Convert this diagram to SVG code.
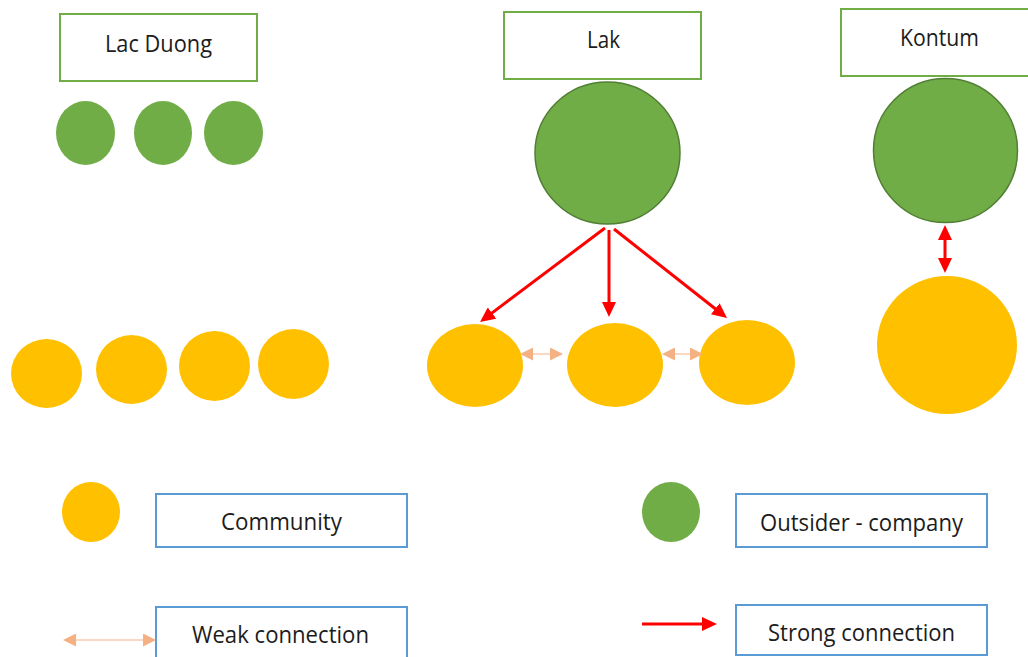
<svg xmlns="http://www.w3.org/2000/svg" width="1028" height="657" viewBox="0 0 1028 657">
<style>
  .lbl { font-family: "Open Sans", "Noto Sans", "Liberation Sans", sans-serif; font-size: 23.5px; fill: #1c1c1c; text-anchor: middle; }
  .gbox { fill: #ffffff; stroke: #70AD47; stroke-width: 2; }
  .bbox { fill: #ffffff; stroke: #5B9BD5; stroke-width: 2; }
  .out { fill: #70AD47; }
  .outbig { fill: #70AD47; stroke: #507E32; stroke-width: 1.5; }
  .com { fill: #FFC000; }
  .strong { stroke: #FF0000; stroke-width: 3; fill: none; }
  .weak { stroke: #F8CBAD; stroke-width: 1.5; fill: none; }
</style>
<defs>
  <marker id="redHead" viewBox="0 0 15 14" refX="4" refY="7" markerWidth="15" markerHeight="14" markerUnits="userSpaceOnUse" orient="auto-start-reverse">
    <path d="M0,0 L15,7 L0,14 Z" fill="#FF0000"/>
  </marker>
  <marker id="weakHead" viewBox="0 0 13 13" refX="6" refY="6.5" markerWidth="13" markerHeight="13" markerUnits="userSpaceOnUse" orient="auto-start-reverse">
    <path d="M0,0 L13,6.5 L0,13 Z" fill="#F4B183"/>
  </marker>
</defs>

<g id="lac-duong">
  <g id="lac-duong-label"><rect class="gbox" x="60" y="14" width="197" height="67"/><text class="lbl" x="158.5" y="52" textLength="107" lengthAdjust="spacingAndGlyphs">Lac Duong</text></g>
  <ellipse id="ld-out-1" class="out" cx="85.5" cy="133" rx="29.5" ry="32"/>
  <ellipse id="ld-out-2" class="out" cx="163" cy="133" rx="29" ry="32"/>
  <ellipse id="ld-out-3" class="out" cx="233.5" cy="133" rx="29.5" ry="32"/>
  <ellipse id="ld-com-1" class="com" cx="46.5" cy="373.5" rx="35.5" ry="34.5"/>
  <ellipse id="ld-com-2" class="com" cx="131.5" cy="369.5" rx="35.5" ry="34.5"/>
  <ellipse id="ld-com-3" class="com" cx="214.5" cy="366" rx="35.5" ry="35"/>
  <ellipse id="ld-com-4" class="com" cx="293.5" cy="364" rx="35.5" ry="35"/>
</g>

<g id="lak">
  <g id="lak-label"><rect class="gbox" x="504" y="12" width="197" height="67"/><text class="lbl" x="603.5" y="48" textLength="33" lengthAdjust="spacingAndGlyphs">Lak</text></g>
  <ellipse id="lak-out" class="outbig" cx="607.5" cy="153" rx="72.5" ry="71"/>
  <ellipse id="lak-com-1" class="com" cx="475" cy="365.5" rx="48" ry="41.5"/>
  <ellipse id="lak-com-2" class="com" cx="615" cy="365" rx="48" ry="42"/>
  <ellipse id="lak-com-3" class="com" cx="747" cy="362.5" rx="48" ry="42.5"/>
</g>

<g id="kontum">
  <g id="kontum-label"><rect class="gbox" x="841" y="9" width="197" height="67"/><text class="lbl" x="939.5" y="46" textLength="79" lengthAdjust="spacingAndGlyphs">Kontum</text></g>
  <ellipse id="kontum-out" class="outbig" cx="945.5" cy="150.5" rx="72" ry="72"/>
  <ellipse id="kontum-com" class="com" cx="947" cy="345" rx="70" ry="69"/>
</g>

<g id="legend">
  <g id="legend-community"><ellipse class="com" cx="91" cy="512" rx="29" ry="30"/><rect class="bbox" x="156" y="494" width="251" height="53"/><text class="lbl" x="281.5" y="530" textLength="121" lengthAdjust="spacingAndGlyphs">Community</text></g>
  <g id="legend-outsider"><ellipse class="out" cx="671" cy="512" rx="29" ry="30"/><rect class="bbox" x="736" y="494" width="251" height="53"/><text class="lbl" x="861.5" y="531" textLength="203" lengthAdjust="spacingAndGlyphs">Outsider - company</text></g>
  <g id="legend-weak"><rect class="bbox" x="156" y="607" width="251" height="60"/><text class="lbl" x="280.5" y="643" textLength="177" lengthAdjust="spacingAndGlyphs">Weak connection</text></g>
  <g id="legend-strong"><rect class="bbox" x="736" y="605" width="251" height="50"/><text class="lbl" x="861.5" y="641" textLength="187" lengthAdjust="spacingAndGlyphs">Strong connection</text></g>
</g>

<g id="connectors">
  <line class="strong" x1="605" y1="228" x2="488.8" y2="315.4" marker-end="url(#redHead)"/>
  <line class="strong" x1="609" y1="230" x2="609" y2="306" marker-end="url(#redHead)"/>
  <line class="strong" x1="614" y1="229" x2="718.4" y2="311.2" marker-end="url(#redHead)"/>
  <line class="strong" x1="945" y1="236" x2="945" y2="262" marker-start="url(#redHead)" marker-end="url(#redHead)"/>
  <line class="weak" x1="527" y1="354" x2="556" y2="354" marker-start="url(#weakHead)" marker-end="url(#weakHead)"/>
  <line class="weak" x1="669" y1="354" x2="696" y2="354" marker-start="url(#weakHead)" marker-end="url(#weakHead)"/>
  <line class="weak" x1="70" y1="640" x2="149" y2="640" marker-start="url(#weakHead)" marker-end="url(#weakHead)"/>
  <line class="strong" x1="642" y1="624" x2="706" y2="624" marker-end="url(#redHead)"/>
</g>
</svg>
